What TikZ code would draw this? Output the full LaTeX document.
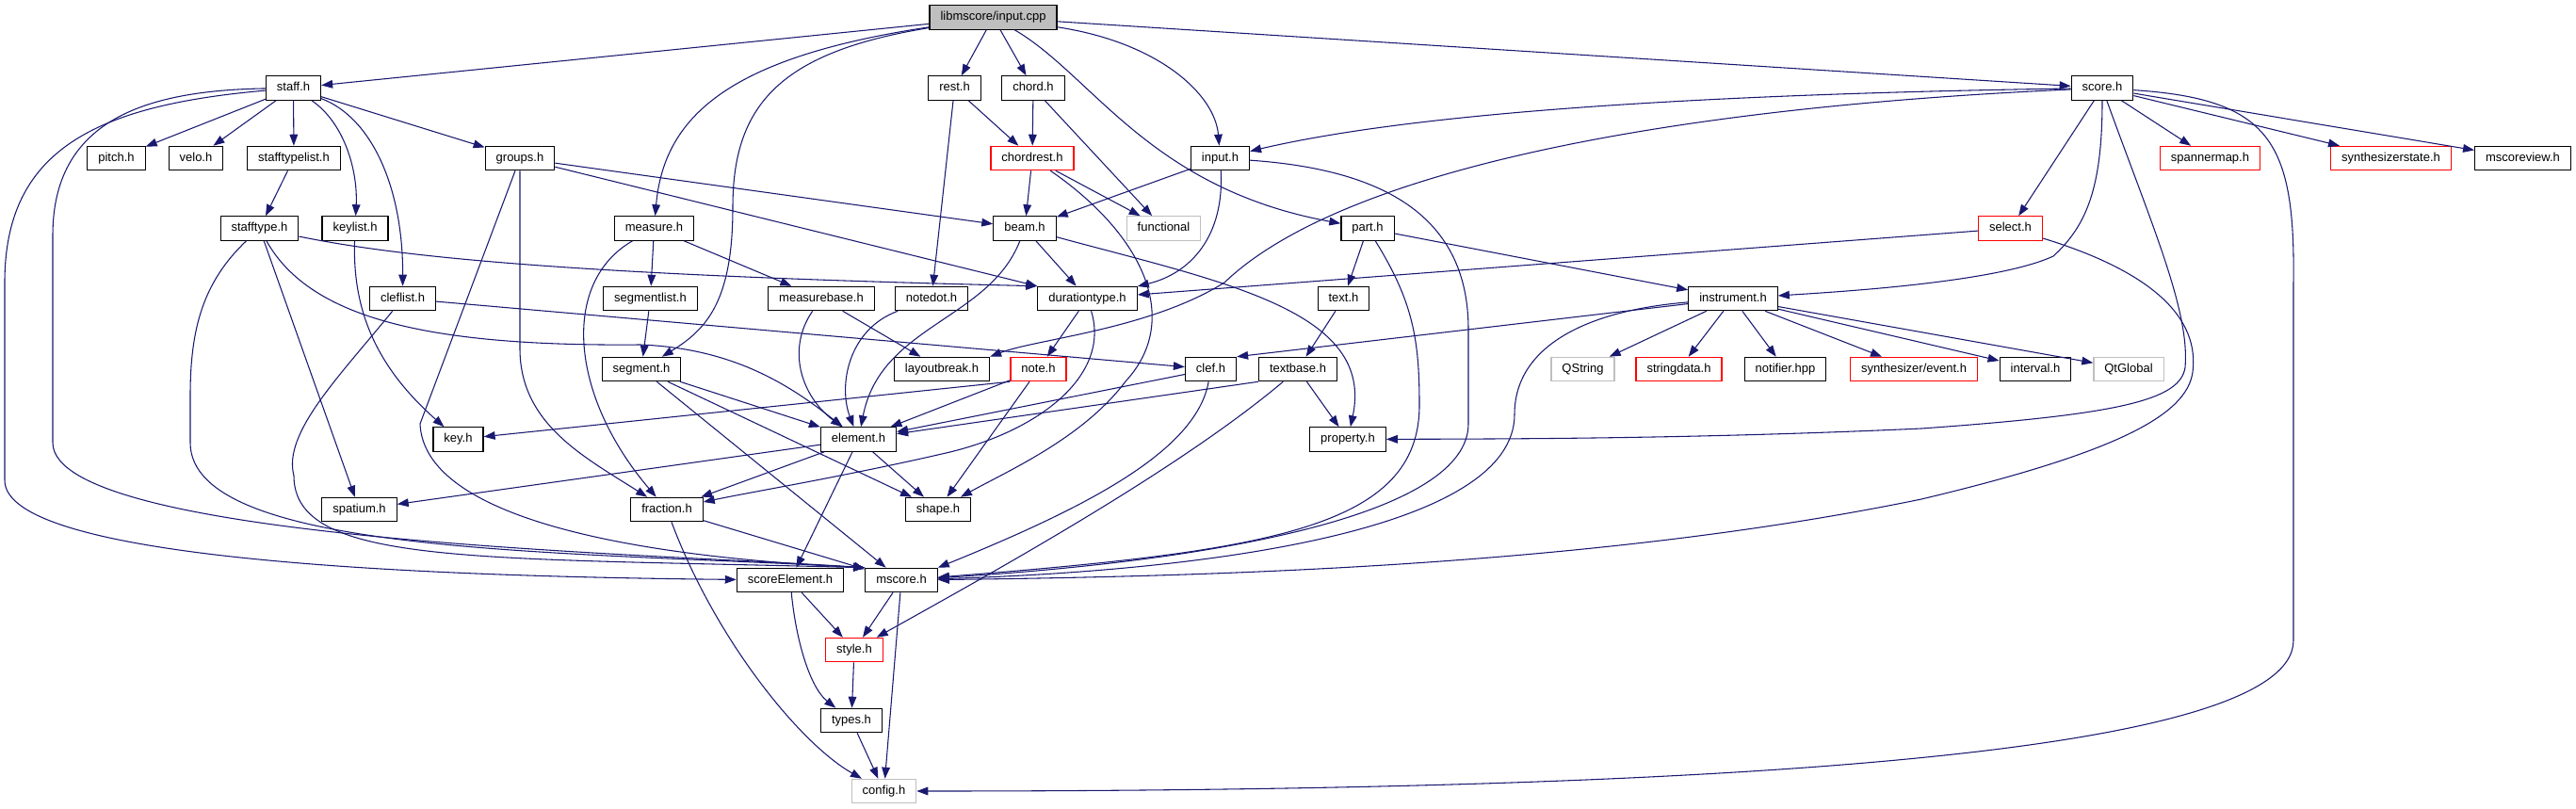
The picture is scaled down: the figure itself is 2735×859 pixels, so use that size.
\documentclass[tikz,border=0pt]{standalone}
\usepackage{fontspec}
\setmainfont{Liberation Sans}
\usetikzlibrary{arrows.meta}
\definecolor{edgeblue}{HTML}{191970}
\definecolor{extgrey}{HTML}{BFBFBF}

\begin{document}
\begin{tikzpicture}[x=0.75pt, y=-0.75pt, >={Triangle[length=9pt,width=6.5pt]}]
        \tikzset{hfile/.style={draw=black, fill=white, line width=0.9pt, inner xsep=8.6pt, minimum height=19pt, text height=7pt, text depth=2pt, font=\fontsize{9.75}{11}\selectfont},
                 redfile/.style={hfile, draw=red},
                 extfile/.style={hfile, draw=extgrey},
                 rootfile/.style={hfile, fill=extgrey},
                 dep/.style={->, draw=edgeblue, line width=0.8pt}}
        \useasboundingbox (0,0) rectangle (2735,859);

        \node[rootfile] (root) at (1054.5,18.5) {libmscore/input.cpp};
        \node[hfile] (staff) at (311.5,93.5) {staff.h};
        \node[hfile] (rest) at (1013.5,93.5) {rest.h};
        \node[hfile] (chord) at (1097,93.5) {chord.h};
        \node[hfile] (score) at (2232,93.5) {score.h};
        \node[hfile] (pitch) at (123.5,168) {pitch.h};
        \node[hfile] (velo) at (208,168) {velo.h};
        \node[hfile] (stlist) at (312,168) {stafftypelist.h};
        \node[hfile] (groups) at (552,168) {groups.h};
        \node[redfile] (chordrest) at (1096,168) {chordrest.h};
        \node[hfile] (input) at (1295.5,168) {input.h};
        \node[redfile] (spanmap) at (2346.5,168) {spannermap.h};
        \node[redfile] (synstate) at (2538.5,168) {synthesizerstate.h};
        \node[hfile] (msview) at (2678.5,168) {mscoreview.h};
        \node[hfile] (stafftype) at (275.5,242.5) {stafftype.h};
        \node[hfile] (keylist) at (377,242.5) {keylist.h};
        \node[hfile] (measure) at (694.5,242.5) {measure.h};
        \node[hfile] (beam) at (1088,242.5) {beam.h};
        \node[extfile] (functional) at (1235.5,242.5) {functional};
        \node[hfile] (part) at (1452,242.5) {part.h};
        \node[redfile] (select) at (2134.5,242.5) {select.h};
        \node[hfile] (cleflist) at (427.5,317) {cleflist.h};
        \node[hfile] (seglist) at (690.5,317) {segmentlist.h};
        \node[hfile] (mbase) at (872,317) {measurebase.h};
        \node[hfile] (notedot) at (989,317) {notedot.h};
        \node[hfile] (durtype) at (1154.5,317) {durationtype.h};
        \node[hfile] (texth) at (1426.5,317) {text.h};
        \node[hfile] (instr) at (1840,317) {instrument.h};
        \node[hfile] (segment) at (681,392) {segment.h};
        \node[hfile] (lbreak) at (1000,392) {layoutbreak.h};
        \node[redfile] (note) at (1102.5,392) {note.h};
        \node[hfile] (clef) at (1285.5,392) {clef.h};
        \node[hfile] (textbase) at (1378,392) {textbase.h};
        \node[extfile] (qstring) at (1680.5,392) {QString};
        \node[redfile] (strdata) at (1782.5,392) {stringdata.h};
        \node[hfile] (notifier) at (1895.5,392) {notifier.hpp};
        \node[redfile] (synevent) at (2032,392) {synthesizer/event.h};
        \node[hfile] (interval) at (2161,392) {interval.h};
        \node[extfile] (qtglobal) at (2260,392) {QtGlobal};
        \node[hfile] (key) at (486.5,466.5) {key.h};
        \node[hfile] (element) at (911.5,466.5) {element.h};
        \node[hfile] (property) at (1431,466.5) {property.h};
        \node[hfile] (spatium) at (381.5,541) {spatium.h};
        \node[hfile] (fraction) at (708,541) {fraction.h};
        \node[hfile] (shape) at (996,541) {shape.h};
        \node[hfile] (scoreel) at (839,616) {scoreElement.h};
        \node[hfile] (mscore) at (957,616) {mscore.h};
        \node[redfile] (styleh) at (907,690) {style.h};
        \node[hfile] (types) at (904,765) {types.h};
        \node[extfile] (config) at (938.5,840) {config.h};

        \draw[dep] (root) -- (staff);
        \draw[dep] (root) .. controls (780,60) and (705,120) .. (measure);
        \draw[dep] (root) .. controls (830,55) and (778,110) .. (778,220) .. controls (778,320) and (750,350) .. (segment);
        \draw[dep] (root) -- (rest);
        \draw[dep] (root) -- (chord);
        \draw[dep] (root) .. controls (1160,80) and (1220,200) .. (part);
        \draw[dep] (root) .. controls (1230,45) and (1290,100) .. (input);
        \draw[dep] (root) -- (score);

        \draw[dep] (staff) .. controls (100,112) and (5,160) .. (5,300) -- (5,510) .. controls (5,595) and (450,612) .. (scoreel);
        \draw[dep] (staff) .. controls (150,96) and (56,130) .. (56,250) -- (56,470) .. controls (56,575) and (700,588) .. (mscore.north west);
        \draw[dep] (staff) -- (pitch);
        \draw[dep] (staff) -- (velo);
        \draw[dep] (staff) -- (stlist);
        \draw[dep] (staff) .. controls (365,130) and (380,180) .. (keylist);
        \draw[dep] (staff) .. controls (395,125) and (428,200) .. (cleflist);
        \draw[dep] (staff) -- (groups);

        \draw[dep] (stlist) -- (stafftype);
        \draw[dep] (stafftype) .. controls (215,300) and (202,350) .. (202,420) -- (202,470) .. controls (202,590) and (600,585) .. (mscore.north west);
        \draw[dep] (stafftype) -- (spatium);
        \draw[dep] (stafftype) .. controls (330,340) and (460,368) .. (680,366) .. controls (780,370) and (840,410) .. (element);
        \draw[dep] (stafftype) .. controls (420,272) and (600,292) .. (durtype.north west);
        \draw[dep] (keylist) .. controls (374,330) and (400,390) .. (key);

        \draw[dep] (groups) -- (beam);
        \draw[dep] (groups) -- (durtype);
        \draw[dep] (groups.south) -- (552,370) .. controls (552,450) and (620,485) .. (fraction);
        \draw[dep] (groups) -- (446,450) .. controls (450,545) and (650,590) .. (mscore.north west);

        \draw[dep] (measure) -- (seglist);
        \draw[dep] (measure) -- (mbase);
        \draw[dep] (measure) .. controls (595,300) and (605,420) .. (fraction);
        \draw[dep] (seglist) -- (segment);
        \draw[dep] (cleflist) -- (clef);
        \draw[dep] (cleflist) .. controls (360,400) and (300,460) .. (312,505) .. controls (312,600) and (500,592) .. (mscore.north west);

        \draw[dep] (segment) -- (element);
        \draw[dep] (segment) -- (shape);
        \draw[dep] (segment) -- (mscore);
        \draw[dep] (mbase) .. controls (835,370) and (850,420) .. (element);
        \draw[dep] (mbase) -- (lbreak);
        \draw[dep] (notedot) .. controls (900,350) and (890,410) .. (element);

        \draw[dep] (rest) -- (notedot);
        \draw[dep] (rest) -- (chordrest);
        \draw[dep] (chord) -- (chordrest);
        \draw[dep] (chord) -- (functional);
        \draw[dep] (chordrest) -- (beam);
        \draw[dep] (chordrest) -- (functional);
        \draw[dep] (chordrest) .. controls (1215,250) and (1255,340) .. (1195,405) .. controls (1150,465) and (1070,500) .. (shape);

        \draw[dep] (beam) -- (durtype);
        \draw[dep] (beam) .. controls (1050,340) and (935,345) .. (element);
        \draw[dep] (beam) .. controls (1300,300) and (1460,330) .. (property);

        \draw[dep] (input) -- (beam);
        \draw[dep] (input) .. controls (1300,250) and (1265,290) .. (durtype);
        \draw[dep] (input) .. controls (1470,180) and (1559,230) .. (1559,350) -- (1559,450) .. controls (1559,545) and (1300,595) .. (mscore);

        \draw[dep] (part) -- (texth);
        \draw[dep] (part) -- (instr);
        \draw[dep] (part) .. controls (1500,320) and (1507,360) .. (1507,430) .. controls (1507,560) and (1350,585) .. (mscore);
        \draw[dep] (texth) -- (textbase);
        \draw[dep] (textbase.south west) -- (element);
        \draw[dep] (textbase) -- (property);
        \draw[dep] (textbase) .. controls (1250,500) and (1050,610) .. (styleh);
        \draw[dep] (clef) -- (element);
        \draw[dep] (clef) .. controls (1270,480) and (1150,540) .. (mscore.north east);

        \draw[dep] (durtype) -- (note);
        \draw[dep] (durtype) .. controls (1180,400) and (1100,460) .. (1000,482) .. controls (900,505) and (800,522) .. (fraction);
        \draw[dep] (note) -- (element);
        \draw[dep] (note.south west) -- (key);
        \draw[dep] (note) -- (shape);

        \draw[dep] (instr) -- (clef.north east);
        \draw[dep] (instr) .. controls (1680,330) and (1608,370) .. (1608,440) .. controls (1608,560) and (1300,605) .. (mscore);
        \draw[dep] (instr) -- (qstring);
        \draw[dep] (instr) -- (strdata);
        \draw[dep] (instr) -- (notifier);
        \draw[dep] (instr) -- (synevent);
        \draw[dep] (instr) -- (interval);
        \draw[dep] (instr) -- (qtglobal);

        \draw[dep] (select) -- (durtype);
        \draw[dep] (select) .. controls (2290,290) and (2335,340) .. (2328,395) .. controls (2322,440) and (2250,480) .. (2040,530) .. controls (1700,600) and (1300,612) .. (mscore);

        \draw[dep] (score) .. controls (1800,100) and (1500,120) .. (input);
        \draw[dep] (score) .. controls (1750,115) and (1420,185) .. (1300,300) .. controls (1220,350) and (1100,360) .. (lbreak.north east);
        \draw[dep] (score) -- (select);
        \draw[dep] (score) .. controls (2232,200) and (2215,240) .. (2180,272) .. controls (2120,300) and (1950,310) .. (instr);
        \draw[dep] (score) .. controls (2285,240) and (2325,330) .. (2320,390) .. controls (2315,425) and (2250,440) .. (2040,455) .. controls (1800,466) and (1600,466) .. (property);
        \draw[dep] (score) -- (spanmap);
        \draw[dep] (score) -- (synstate);
        \draw[dep] (score) -- (msview);
        \draw[dep] (score) .. controls (2410,105) and (2437,150) .. (2435,300) -- (2435,680) .. controls (2435,805) and (1800,840) .. (config);

        \draw[dep] (element) -- (spatium);
        \draw[dep] (element) -- (fraction);
        \draw[dep] (element) -- (shape);
        \draw[dep] (element) -- (scoreel);
        \draw[dep] (fraction) -- (mscore);
        \draw[dep] (fraction) .. controls (760,680) and (850,790) .. (config);
        \draw[dep] (scoreel) -- (styleh);
        \draw[dep] (scoreel) .. controls (845,680) and (860,730) .. (types);
        \draw[dep] (mscore) -- (styleh);
        \draw[dep] (mscore) -- (config);
        \draw[dep] (styleh) -- (types);
        \draw[dep] (types) -- (config);
\end{tikzpicture}
\end{document}
